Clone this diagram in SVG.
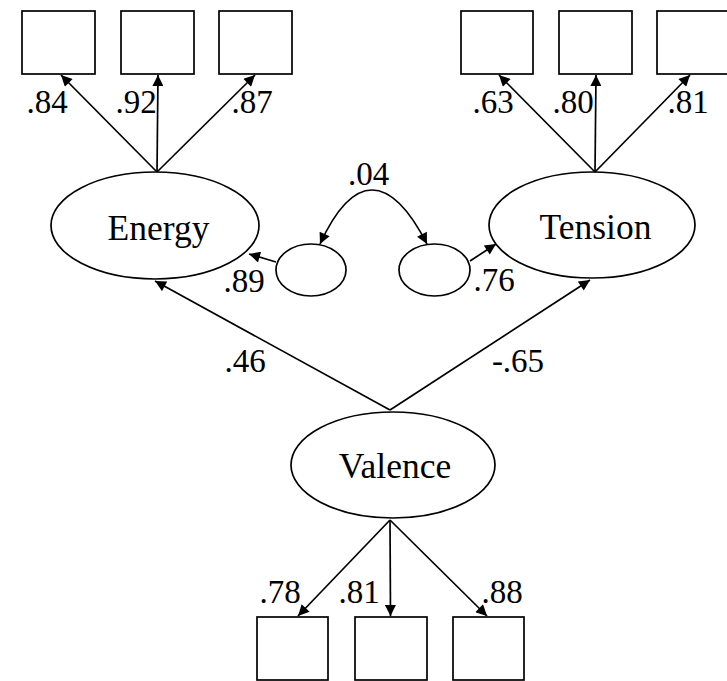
<svg xmlns="http://www.w3.org/2000/svg" width="727" height="681" viewBox="0 0 727 681">
<style>
.box{fill:#fff;stroke:#000;stroke-width:1.7}
.lat{fill:#fff;stroke:#000;stroke-width:1.7}
.edge{fill:none;stroke:#000;stroke-width:1.7}
.t{font-family:'Liberation Serif','Times New Roman',serif;fill:#000;text-anchor:middle}
.num{font-size:33px}
.lbl{font-size:35.5px}
</style>
<defs>
<marker id="ah" viewBox="0 0 10 10" refX="10" refY="5" markerWidth="13" markerHeight="11" orient="auto-start-reverse" markerUnits="userSpaceOnUse">
<path d="M0,0 L10,5 L0,10 z" fill="#000"/>
</marker>
</defs>
<rect width="727" height="681" fill="#fff"/>
<g id="connectors">
<path class="edge" d="M157,172 L61,75" marker-end="url(#ah)"/>
<path class="edge" d="M157,172 L158,75" marker-end="url(#ah)"/>
<path class="edge" d="M157,172 L255,75" marker-end="url(#ah)"/>
<path class="edge" d="M595,172 L499,75" marker-end="url(#ah)"/>
<path class="edge" d="M595,172 L596,75" marker-end="url(#ah)"/>
<path class="edge" d="M595,172 L690,75" marker-end="url(#ah)"/>
<path class="edge" d="M390,410 L155,281" marker-end="url(#ah)"/>
<path class="edge" d="M390,410 L590,280" marker-end="url(#ah)"/>
<path class="edge" d="M390,520 L298,616" marker-end="url(#ah)"/>
<path class="edge" d="M390,520 L390.5,616" marker-end="url(#ah)"/>
<path class="edge" d="M390,520 L487,616" marker-end="url(#ah)"/>
<path class="edge" d="M276,262 L249,254" marker-end="url(#ah)"/>
<path class="edge" d="M470,261 L496,244" marker-end="url(#ah)"/>
<path class="edge" d="M320,244 C338,205 355,190 372,190 C390,190 408,207 427,244" marker-start="url(#ah)" marker-end="url(#ah)"/>
</g>
<g id="x1"><rect class="box" x="22" y="11" width="73" height="63"/></g>
<g id="x2"><rect class="box" x="121" y="11" width="73" height="63"/></g>
<g id="x3"><rect class="box" x="219" y="11" width="73" height="63"/></g>
<g id="x4"><rect class="box" x="461" y="11" width="72" height="63"/></g>
<g id="x5"><rect class="box" x="559" y="11" width="73" height="63"/></g>
<g id="x6"><rect class="box" x="657" y="11" width="74" height="63"/></g>
<g id="x7"><rect class="box" x="257" y="617" width="71" height="63"/></g>
<g id="x8"><rect class="box" x="355" y="617" width="72" height="63"/></g>
<g id="x9"><rect class="box" x="453" y="617" width="71" height="63"/></g>
<g id="energy"><ellipse class="lat" cx="155" cy="225.5" rx="104" ry="53.5"/><text class="t lbl" x="158.5" y="240">Energy</text></g>
<g id="tension"><ellipse class="lat" cx="592" cy="225" rx="103" ry="53"/><text class="t lbl" x="595.5" y="239">Tension</text></g>
<g id="valence"><ellipse class="lat" cx="393" cy="465" rx="102" ry="53"/><text class="t lbl" x="395" y="478">Valence</text></g>
<g id="d1"><ellipse class="lat" cx="311" cy="270" rx="35" ry="26"/></g>
<g id="d2"><ellipse class="lat" cx="434.5" cy="270" rx="35.5" ry="26"/></g>
<g id="labels">
<text class="t num" x="47" y="113">.84</text>
<text class="t num" x="136" y="113">.92</text>
<text class="t num" x="252" y="113">.87</text>
<text class="t num" x="493" y="113">.63</text>
<text class="t num" x="573" y="113">.80</text>
<text class="t num" x="688" y="113">.81</text>
<text class="t num" x="368.5" y="185">.04</text>
<text class="t num" x="244" y="292">.89</text>
<text class="t num" x="494" y="291">.76</text>
<text class="t num" x="245" y="372">.46</text>
<text class="t num" x="518" y="372">-.65</text>
<text class="t num" x="280" y="603">.78</text>
<text class="t num" x="359" y="603">.81</text>
<text class="t num" x="502" y="603">.88</text>
</g>
</svg>
